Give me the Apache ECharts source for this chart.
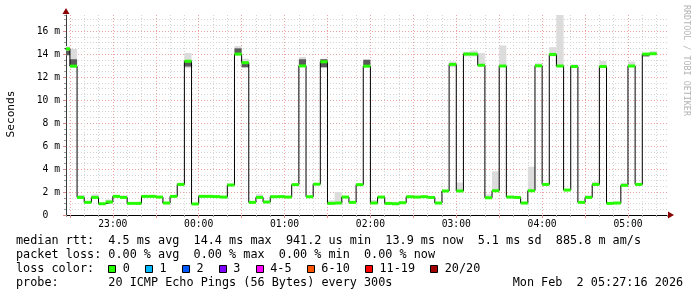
<!DOCTYPE html>
<html><head><meta charset="utf-8">
<script src="https://cdn.jsdelivr.net/npm/echarts@6/dist/echarts.min.js"></script>
<style>html,body{margin:0;padding:0;background:#fff}#c{width:697px;height:297px}</style>
</head><body><div id="c"></div>
<script>
// ---- time domain ----
const firstSlotStart = '22:25';
const slotMinutes = 5;
const viewStart = '22:27:16';
const viewEnd = '05:27:16';

// ---- series values (milliseconds), one per 5-minute slot ----
const median = [14.45,12.95,1.53,1.10,1.53,0.98,1.13,1.62,1.53,1.01,
  1.01,1.62,1.62,1.56,1.04,1.62,2.66,13.38,0.96,1.62,
  1.62,1.60,1.56,2.61,14.0,13.25,1.10,1.53,1.13,1.59,
  1.60,1.56,2.64,12.97,1.59,2.68,13.33,1.01,1.04,1.56,
  1.10,2.64,12.95,1.04,1.56,1.01,0.98,1.07,1.59,1.56,
  1.59,1.53,1.04,2.09,13.1,2.09,14.0,14.0,13.03,1.50,
  2.11,12.96,1.56,1.53,1.04,2.11,12.98,2.66,13.97,12.96,
  2.17,12.92,1.10,1.53,2.66,12.92,1.01,1.04,2.58,12.96,
  2.66,14.0,14.03];
const smokeLo = [13.9,12.8,1.48,1.05,1.48,0.93,1.08,1.57,1.48,0.96,
  0.96,1.57,1.57,1.50,0.99,1.57,2.60,12.78,0.91,1.57,
  1.57,1.55,1.50,2.55,13.88,12.83,1.05,1.48,1.08,1.54,
  1.55,1.50,2.58,12.9,1.54,2.62,12.83,0.96,0.99,1.50,
  1.05,2.58,12.83,0.99,1.50,0.96,0.93,1.02,1.54,1.50,
  1.54,1.48,0.99,2.03,12.85,2.03,13.8,13.8,12.9,1.45,
  2.05,12.9,1.50,1.48,0.99,2.05,12.9,2.60,13.8,12.9,
  2.11,12.8,1.05,1.48,2.60,12.8,0.96,0.99,2.52,12.88,
  2.60,13.8,13.95];
const smokeHi = [14.7,14.45,1.75,1.2,1.8,1.05,1.35,1.7,1.7,1.08,
  1.08,1.7,1.68,1.62,1.15,1.68,2.8,14.1,1.02,1.68,
  1.68,1.66,1.62,2.7,14.7,13.6,1.2,1.8,1.2,1.65,
  1.65,1.62,2.7,13.75,1.65,2.75,13.6,1.27,2.0,1.65,
  1.2,2.7,13.55,1.3,1.62,1.08,1.15,1.12,1.65,1.62,
  1.65,1.6,1.1,2.15,13.35,2.83,14.2,14.3,14.1,1.8,
  3.8,14.75,1.62,1.6,1.1,4.2,13.2,2.72,14.6,17.4,
  2.25,13.1,1.17,1.7,2.9,13.4,1.1,1.12,2.8,13.35,
  2.72,14.05,14.25];
// darker inner smoke (slot index, low, high)
const coreSlots = [0,1,17,24,25,33,36,42,56,81];
const coreLo = [13.9,13.05,12.92,14.1,12.85,13.05,12.85,13.05,14.05,13.8];
const coreHi = [14.3,13.55,13.3,14.5,13.15,13.55,13.55,13.5,14.1,13.95];

// ---- tick labels / texts ----
const yMajorStep = 2, yMinorStep = 0.5, yMax = 17.4;
const statLines = [
  'median rtt:  4.5 ms avg  14.4 ms max  941.2 us min  13.9 ms now  5.1 ms sd  885.8 m am/s',
  'packet loss: 0.00 % avg  0.00 % max  0.00 % min  0.00 % now'
];
const lossTitle = 'loss color:';
const lossLabels = ['0','1','2','3','4-5','6-10','11-19','20/20'];
const lossColors = ['#26ff00','#00b8ff','#0059ff','#7e00ff','#ff00ff','#ff5500','#ff0000','#a10000'];
const probeLine = 'probe:       20 ICMP Echo Pings (56 Bytes) every 300s';
const dateText = 'Mon Feb  2 05:27:16 2026';
const yTitle = 'Seconds';
const watermark = 'RRDTOOL / TOBI OETIKER';

// ---- helpers ----
function toMin(s){ const p=s.split(':').map(Number); let m=p[0]*60+p[1]+(p[2]||0)/60-22*60; if(m<0)m+=1440; return m; }
const x0 = toMin(firstSlotStart);
const slotStart = median.map((_,k)=>x0+k*slotMinutes);
const slotEnd = slotStart.map(s=>s+slotMinutes);
const xMin = toMin(viewStart), xMax = toMin(viewEnd);

const smokeData = median.map((_,k)=>[slotStart[k],slotEnd[k],smokeLo[k],smokeHi[k]]);
const coreData = coreSlots.map((k,i)=>[slotStart[k],slotEnd[k],coreLo[i],coreHi[i]]);
const greenData = median.map((v,k)=>[slotStart[k],slotEnd[k],v]);
const lineData = [];
median.forEach((v,k)=>{ lineData.push([slotStart[k],v]); lineData.push([slotEnd[k],v]); });

function bandRender(color){
  return function(params, api){
    const p1 = api.coord([api.value(0), api.value(3)]);
    const p2 = api.coord([api.value(1), api.value(2)]);
    const cs = params.coordSys;
    const r = echarts.graphic.clipRectByRect({x:p1[0],y:p1[1],width:p2[0]-p1[0],height:p2[1]-p1[1]},{x:cs.x,y:cs.y,width:cs.width,height:cs.height});
    if(!r) return;
    return {type:'rect', shape:r, style:{fill:color}};
  };
}
function greenRender(params, api){
  const p1 = api.coord([api.value(0), api.value(2)]);
  const p2 = api.coord([api.value(1), api.value(2)]);
  const cs = params.coordSys;
  const r = echarts.graphic.clipRectByRect({x:p1[0],y:p1[1]-1.5,width:p2[0]-p1[0],height:3},{x:cs.x,y:cs.y,width:cs.width,height:cs.height});
  if(!r) return;
  return {type:'rect', shape:r, style:{fill:lossColors[0]}};
}
function hourLabel(v){
  const h=v/60; if(Math.abs(h-Math.round(h))>1e-6) return '';
  const hh=(22+Math.round(h))%24; return (hh<10?'0':'')+hh+':00';
}
const MONO='"DejaVu Sans Mono", monospace';
const gridGrey='#d4d4d4', gridRed='#eaa2a2';

// ---- legend graphics ----
const charW = 7.09;
const legendFont = '11.8px '+MONO;
const elements = [];
function txt(x,y,t,extra){ elements.push(Object.assign({type:'text',x:x,y:y,silent:true,style:{text:t,font:legendFont,fill:'#000',align:'left',verticalAlign:'middle',textAlign:'left',textVerticalAlign:'middle'}},extra||{})); }
txt(16,241,statLines[0]);
txt(16,255,statLines[1]);
txt(16,268.5,lossTitle);
let bx = 108.3;
lossLabels.forEach((lab,i)=>{
  elements.push({type:'rect',silent:true,shape:{x:Math.round(bx)+0.5,y:265.5,width:7,height:7},style:{fill:lossColors[i],stroke:'#000',lineWidth:1}});
  const tx = bx+14.4;
  txt(tx,268.5,lab);
  bx = tx + lab.length*charW + 15.4;
});
txt(16,282.5,probeLine);
txt(512.7,282.5,dateText);
elements.push({type:'text',x:11,y:114,rotation:Math.PI/2,silent:true,style:{text:yTitle,font:'11.2px '+MONO,fill:'#000',align:'center',verticalAlign:'middle',textAlign:'center',textVerticalAlign:'middle'}});
elements.push({type:'text',x:686,y:5,rotation:-Math.PI/2,silent:true,style:{text:watermark,font:'8.4px '+MONO,fill:'#b4b4b4',align:'left',verticalAlign:'middle',textAlign:'left',textVerticalAlign:'middle'}});

const chart = echarts.init(document.getElementById('c'), null, {renderer:'canvas'});
chart.setOption({
  animation:false,
  backgroundColor:'#fff',
  grid:{left:66, top:15, width:601, height:200, containLabel:false},
  xAxis:[
    {type:'value', position:'bottom', min:xMin, max:xMax, splitNumber:42, minInterval:10, maxInterval:10,
     axisLine:{show:true, onZero:false, lineStyle:{color:'#000', width:1}},
     axisTick:{show:true, length:2, lineStyle:{color:'#999'}},
     axisLabel:{show:false},
     splitLine:{show:true, showMinLine:false, showMaxLine:false, lineStyle:{color:gridGrey, width:1, type:[1,2]}}},
    {type:'value', position:'bottom', offset:0, min:xMin, max:xMax, splitNumber:14, minInterval:30, maxInterval:30,
     axisLine:{show:true, onZero:false, symbol:['none','triangle'], symbolSize:[7,6], symbolOffset:[0,4], lineStyle:{color:'#8b0000', width:0}},
     axisTick:{show:true, length:3, lineStyle:{color:'#e08a8a'}},
     axisLabel:{show:true, interval:0, formatter:hourLabel, fontFamily:MONO, fontSize:9.7, color:'#000', margin:4, showMinLabel:false, showMaxLabel:false},
     splitLine:{show:true, showMinLine:false, showMaxLine:false, lineStyle:{color:gridRed, width:1, type:[1,2]}}}
  ],
  yAxis:[
    {type:'value', position:'left', min:0, max:yMax, interval:yMinorStep,
     axisLine:{show:true, onZero:false, lineStyle:{color:'#3a3a3a', width:1}},
     axisTick:{show:true, length:2, lineStyle:{color:'#999'}},
     axisLabel:{show:false},
     splitLine:{show:true, showMinLine:false, showMaxLine:false, lineStyle:{color:gridGrey, width:1, type:[1,2]}}},
    {type:'value', min:0, max:yMax, interval:yMajorStep, position:'left', offset:0,
     axisLine:{show:true, onZero:false, symbol:['none','triangle'], symbolSize:[7,6], symbolOffset:[0,4], lineStyle:{color:'#8b0000', width:0}},
     axisTick:{show:true, length:3, lineStyle:{color:'#e08a8a'}},
     axisLabel:{show:true, formatter:v=>v===0?'0  ':(Math.abs(v-Math.round(v))<1e-6 && Math.round(v)%2===0 ? v+' m' : ''), fontFamily:MONO, fontSize:9.7, color:'#000', margin:6, showMaxLabel:false},
     splitLine:{show:true, showMinLine:false, showMaxLine:false, lineStyle:{color:gridRed, width:1, type:[1,2]}}}
  ],
  series:[
    {type:'custom', name:'smoke', xAxisIndex:0, yAxisIndex:0, z:2, renderItem:bandRender('#dcdcdc'), data:smokeData, encode:{x:[0,1], y:[2,3]}},
    {type:'custom', name:'smokeCore', xAxisIndex:0, yAxisIndex:0, z:3, renderItem:bandRender('#5a5a5a'), data:coreData, encode:{x:[0,1], y:[2,3]}},
    {type:'line', name:'median', xAxisIndex:0, yAxisIndex:0, z:4, data:lineData, symbol:'none', showSymbol:false, lineStyle:{color:'#000', width:1}, clip:true},
    {type:'custom', name:'loss', xAxisIndex:0, yAxisIndex:0, z:5, renderItem:greenRender, data:greenData, encode:{x:[0,1], y:2}}
  ],
  graphic:{elements:elements}
});
</script></body></html>
